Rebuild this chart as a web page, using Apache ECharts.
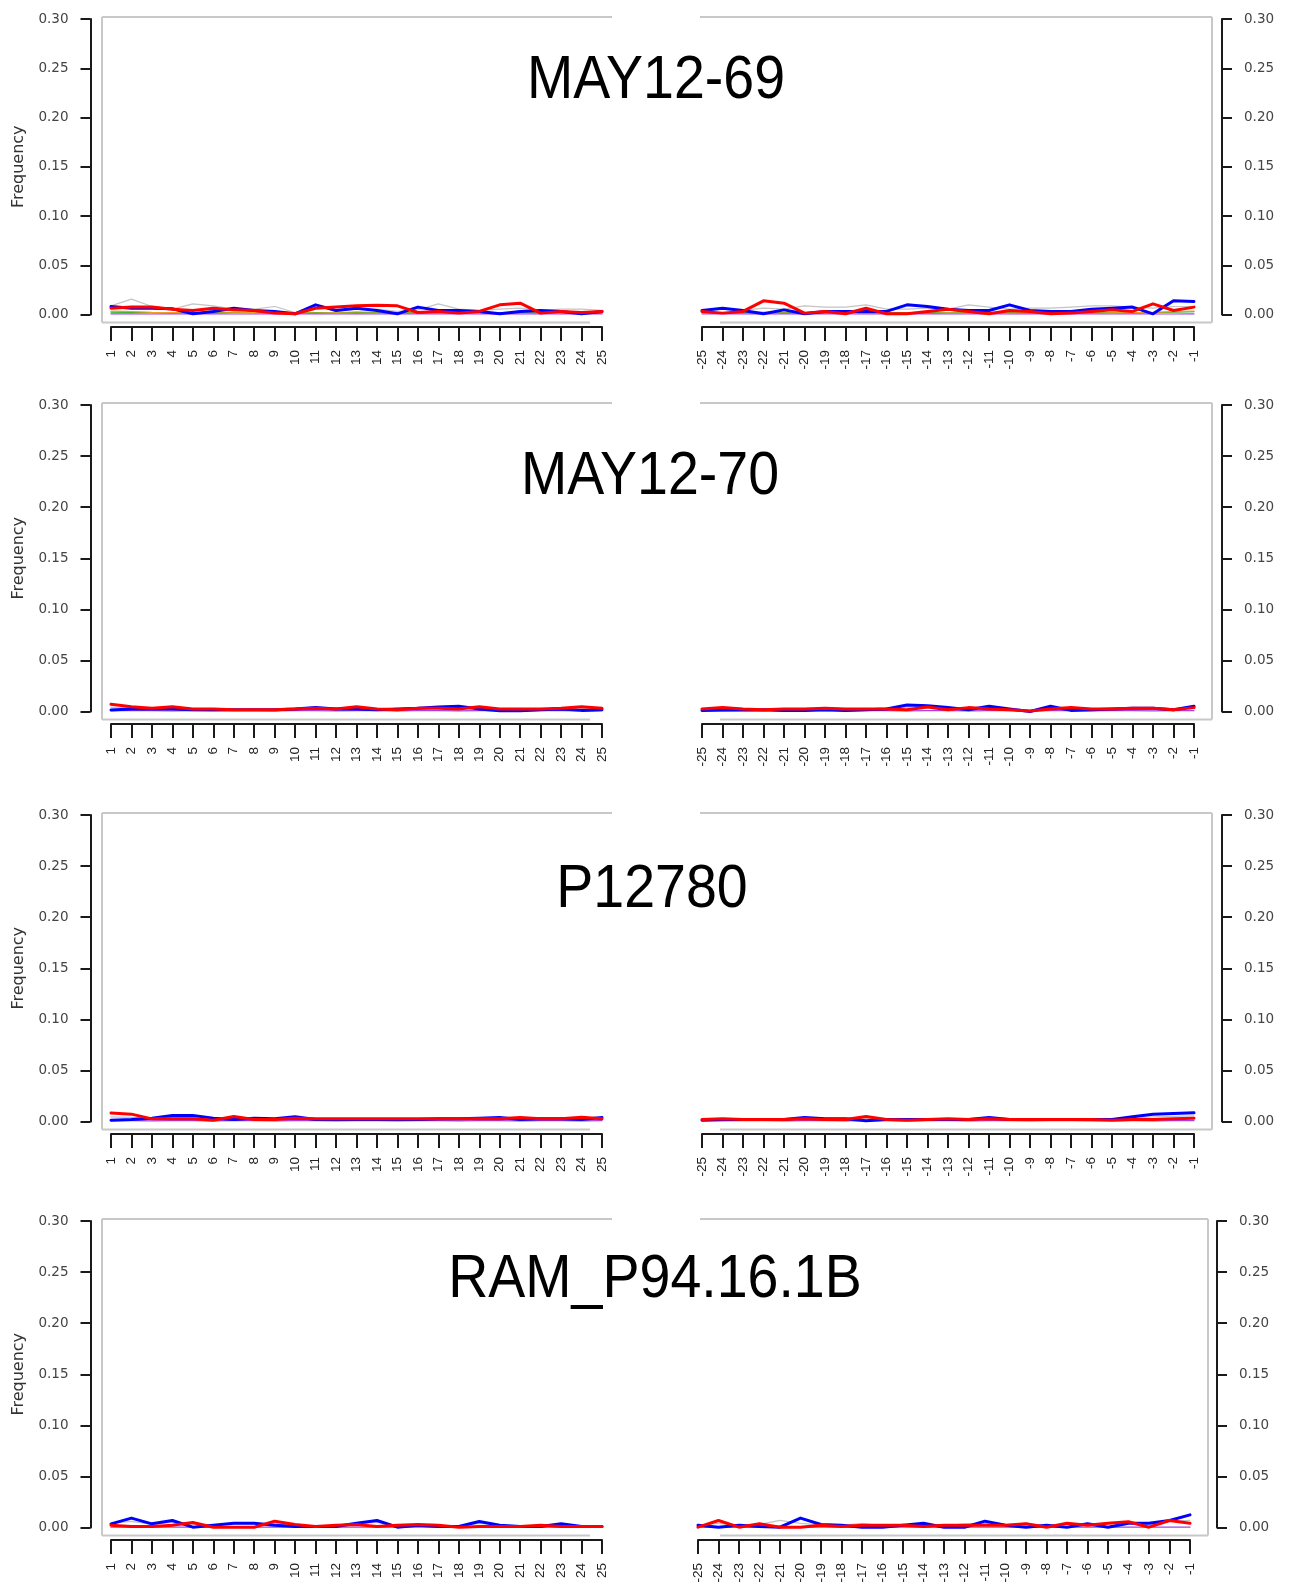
<!DOCTYPE html>
<html><head><meta charset="utf-8">
<script src="https://cdn.jsdelivr.net/npm/echarts@6/dist/echarts.min.js"></script>
<style>html,body{margin:0;padding:0;background:#fff}#c{width:1289px;height:1592px}</style>
</head><body><div id="c"></div>
<script>
// ---------- categories & ticks ----------
const leftCats = ['1','2','3','4','5','6','7','8','9','10','11','12','13','14','15','16','17','18','19','20','21','22','23','24','25'];
const rightCats = ['-25','-24','-23','-22','-21','-20','-19','-18','-17','-16','-15','-14','-13','-12','-11','-10','-9','-8','-7','-6','-5','-4','-3','-2','-1'];
const titles = ['MAY12-69','MAY12-70','P12780','RAM_P94.16.1B'];
const yMin = 0, yMax = 0.30, yStep = 0.05;

// ---------- panel 1: MAY12-69 ----------
const p1LeftGray   = [0.0088,0.0156,0.0081,0.0054,0.0108,0.0088,0.0054,0.0054,0.0081,0.0020,0.0098,0.0031,0.0054,0.0054,0.0031,0.0047,0.0108,0.0054,0.0041,0.0054,0.0064,0.0041,0.0054,0.0054,0.0041];
const p1LeftGreen  = [0.0025,0.0022,0.0020,0.0020,0.0018,0.0020,0.0022,0.0020,0.0018,0.0015,0.0020,0.0018,0.0025,0.0020,0.0018,0.0020,0.0022,0.0020,0.0018,0.0020,0.0018,0.0020,0.0022,0.0020,0.0020];
const p1LeftOrange = [0.0035,0.0030,0.0022,0.0020,0.0018,0.0015,0.0018,0.0020,0.0015,0.0012,0.0015,0.0018,0.0015,0.0015,0.0012,0.0015,0.0018,0.0015,0.0015,0.0012,0.0015,0.0015,0.0018,0.0015,0.0015];
const p1LeftPurple = [0.0006,0.0006,0.0005,0.0006,0.0005,0.0006,0.0005,0.0005,0.0006,0.0005,0.0006,0.0005,0.0006,0.0005,0.0005,0.0006,0.0005,0.0006,0.0005,0.0006,0.0005,0.0006,0.0005,0.0005,0.0006];
const p1LeftBlue   = [0.0081,0.0064,0.0064,0.0058,0.0007,0.0031,0.0064,0.0041,0.0031,0.0007,0.0098,0.0041,0.0064,0.0041,0.0007,0.0075,0.0041,0.0041,0.0031,0.0007,0.0031,0.0041,0.0031,0.0007,0.0031];
const p1LeftRed    = [0.0064,0.0075,0.0075,0.0054,0.0041,0.0064,0.0047,0.0041,0.0014,0.0007,0.0064,0.0075,0.0088,0.0095,0.0088,0.0020,0.0031,0.0014,0.0031,0.0098,0.0115,0.0014,0.0031,0.0020,0.0031];
const p1RightGray   = [0.0041,0.0054,0.0041,0.0064,0.0054,0.0088,0.0075,0.0075,0.0098,0.0054,0.0054,0.0064,0.0054,0.0098,0.0075,0.0054,0.0064,0.0064,0.0075,0.0088,0.0088,0.0075,0.0064,0.0081,0.0081];
const p1RightGreen  = [0.0020,0.0018,0.0020,0.0022,0.0020,0.0018,0.0020,0.0020,0.0022,0.0018,0.0020,0.0020,0.0018,0.0020,0.0022,0.0020,0.0018,0.0020,0.0020,0.0022,0.0020,0.0018,0.0020,0.0025,0.0030];
const p1RightOrange = [0.0015,0.0015,0.0012,0.0015,0.0015,0.0012,0.0015,0.0015,0.0012,0.0015,0.0015,0.0012,0.0015,0.0015,0.0012,0.0015,0.0015,0.0012,0.0015,0.0015,0.0018,0.0020,0.0022,0.0030,0.0035];
const p1RightPurple = [0.0005,0.0006,0.0005,0.0005,0.0006,0.0005,0.0006,0.0005,0.0005,0.0006,0.0005,0.0006,0.0005,0.0005,0.0006,0.0005,0.0006,0.0005,0.0005,0.0006,0.0005,0.0006,0.0005,0.0005,0.0006];
const p1RightBlue   = [0.0041,0.0064,0.0041,0.0007,0.0047,0.0007,0.0031,0.0031,0.0031,0.0031,0.0098,0.0081,0.0054,0.0041,0.0041,0.0098,0.0041,0.0031,0.0031,0.0054,0.0064,0.0075,0.0007,0.0139,0.0132];
const p1RightRed    = [0.0031,0.0014,0.0031,0.0139,0.0115,0.0014,0.0031,0.0007,0.0064,0.0007,0.0007,0.0031,0.0054,0.0031,0.0007,0.0041,0.0031,0.0007,0.0014,0.0031,0.0047,0.0031,0.0108,0.0041,0.0075];

// ---------- panel 2: MAY12-70 ----------
const p2LeftGray   = [0.0040,0.0035,0.0030,0.0035,0.0025,0.0025,0.0022,0.0022,0.0022,0.0028,0.0038,0.0030,0.0038,0.0025,0.0025,0.0032,0.0040,0.0045,0.0035,0.0022,0.0022,0.0025,0.0030,0.0035,0.0028];
const p2LeftPurple = [0.0008,0.0008,0.0008,0.0007,0.0008,0.0007,0.0008,0.0008,0.0007,0.0008,0.0008,0.0007,0.0008,0.0008,0.0007,0.0008,0.0008,0.0007,0.0008,0.0008,0.0007,0.0008,0.0008,0.0007,0.0008];
const p2LeftBlue   = [0.0015,0.0025,0.0025,0.0025,0.0018,0.0018,0.0018,0.0018,0.0018,0.0025,0.0038,0.0025,0.0025,0.0018,0.0025,0.0031,0.0044,0.0051,0.0025,0.0008,0.0008,0.0018,0.0025,0.0011,0.0018];
const p2LeftRed    = [0.0070,0.0047,0.0031,0.0047,0.0025,0.0025,0.0018,0.0018,0.0018,0.0025,0.0031,0.0025,0.0047,0.0025,0.0018,0.0031,0.0031,0.0025,0.0047,0.0025,0.0025,0.0025,0.0031,0.0047,0.0031];
const p2RightGray   = [0.0020,0.0028,0.0022,0.0020,0.0022,0.0022,0.0025,0.0022,0.0022,0.0025,0.0040,0.0045,0.0030,0.0030,0.0040,0.0022,0.0010,0.0035,0.0025,0.0022,0.0025,0.0030,0.0030,0.0020,0.0040];
const p2RightPurple = [0.0008,0.0007,0.0008,0.0008,0.0007,0.0008,0.0008,0.0007,0.0008,0.0008,0.0007,0.0008,0.0008,0.0007,0.0008,0.0008,0.0007,0.0008,0.0008,0.0007,0.0008,0.0008,0.0007,0.0008,0.0008];
const p2RightBlue   = [0.0011,0.0015,0.0015,0.0018,0.0011,0.0011,0.0018,0.0011,0.0018,0.0025,0.0064,0.0057,0.0038,0.0018,0.0051,0.0025,0.0000,0.0051,0.0011,0.0018,0.0025,0.0031,0.0031,0.0018,0.0051];
const p2RightRed    = [0.0025,0.0038,0.0025,0.0018,0.0025,0.0025,0.0031,0.0025,0.0025,0.0025,0.0018,0.0044,0.0018,0.0038,0.0025,0.0018,0.0005,0.0025,0.0038,0.0025,0.0025,0.0031,0.0031,0.0018,0.0038];

// ---------- panel 3: P12780 ----------
const p3LeftGray   = [0.0045,0.0040,0.0030,0.0040,0.0040,0.0025,0.0035,0.0025,0.0025,0.0035,0.0022,0.0022,0.0022,0.0022,0.0022,0.0022,0.0025,0.0025,0.0030,0.0032,0.0030,0.0025,0.0025,0.0030,0.0030];
const p3LeftPurple = [0.0008,0.0008,0.0007,0.0008,0.0008,0.0007,0.0008,0.0008,0.0007,0.0008,0.0008,0.0007,0.0008,0.0008,0.0007,0.0008,0.0008,0.0007,0.0008,0.0008,0.0007,0.0008,0.0008,0.0007,0.0008];
const p3LeftBlue   = [0.0013,0.0020,0.0033,0.0059,0.0059,0.0033,0.0020,0.0033,0.0026,0.0046,0.0020,0.0020,0.0020,0.0020,0.0020,0.0020,0.0026,0.0026,0.0033,0.0039,0.0020,0.0026,0.0026,0.0020,0.0039];
const p3LeftRed    = [0.0082,0.0072,0.0026,0.0026,0.0026,0.0013,0.0049,0.0020,0.0020,0.0033,0.0026,0.0026,0.0026,0.0026,0.0026,0.0026,0.0026,0.0026,0.0026,0.0026,0.0039,0.0026,0.0026,0.0042,0.0026];
const p3RightGray   = [0.0020,0.0022,0.0020,0.0020,0.0020,0.0030,0.0022,0.0022,0.0030,0.0020,0.0018,0.0020,0.0022,0.0020,0.0030,0.0020,0.0020,0.0020,0.0020,0.0020,0.0018,0.0030,0.0045,0.0050,0.0055];
const p3RightPurple = [0.0008,0.0007,0.0008,0.0008,0.0007,0.0008,0.0008,0.0007,0.0008,0.0008,0.0007,0.0008,0.0008,0.0007,0.0008,0.0008,0.0007,0.0008,0.0008,0.0007,0.0008,0.0008,0.0007,0.0008,0.0008];
const p3RightBlue   = [0.0013,0.0020,0.0020,0.0020,0.0020,0.0039,0.0026,0.0026,0.0007,0.0020,0.0020,0.0020,0.0020,0.0020,0.0039,0.0020,0.0020,0.0020,0.0020,0.0020,0.0020,0.0046,0.0072,0.0078,0.0085];
const p3RightRed    = [0.0020,0.0026,0.0020,0.0020,0.0020,0.0026,0.0020,0.0020,0.0049,0.0020,0.0013,0.0020,0.0026,0.0020,0.0026,0.0020,0.0020,0.0020,0.0020,0.0020,0.0013,0.0020,0.0020,0.0026,0.0033];

// ---------- panel 4: RAM_P94.16.1B ----------
const p4LeftGray   = [0.0040,0.0060,0.0030,0.0050,0.0030,0.0020,0.0035,0.0035,0.0040,0.0020,0.0010,0.0020,0.0035,0.0050,0.0020,0.0025,0.0015,0.0010,0.0040,0.0020,0.0010,0.0020,0.0030,0.0010,0.0010];
const p4LeftPurple = [0.0003,0.0003,0.0004,0.0003,0.0003,0.0004,0.0003,0.0003,0.0004,0.0003,0.0003,0.0004,0.0003,0.0003,0.0004,0.0003,0.0003,0.0004,0.0003,0.0003,0.0004,0.0003,0.0003,0.0004,0.0003];
const p4LeftBlue   = [0.0036,0.0092,0.0036,0.0069,0.0003,0.0023,0.0042,0.0042,0.0023,0.0010,0.0010,0.0010,0.0042,0.0069,0.0003,0.0023,0.0010,0.0010,0.0059,0.0023,0.0010,0.0010,0.0036,0.0010,0.0010];
const p4LeftRed    = [0.0023,0.0010,0.0010,0.0023,0.0049,0.0003,0.0003,0.0003,0.0062,0.0029,0.0010,0.0023,0.0029,0.0010,0.0023,0.0029,0.0023,0.0003,0.0010,0.0010,0.0010,0.0023,0.0010,0.0010,0.0010];
const p4RightGray   = [0.0015,0.0040,0.0015,0.0030,0.0070,0.0040,0.0025,0.0020,0.0040,0.0015,0.0020,0.0035,0.0015,0.0035,0.0040,0.0025,0.0042,0.0015,0.0035,0.0030,0.0040,0.0045,0.0020,0.0060,0.0070];
const p4RightPurple = [0.0003,0.0003,0.0004,0.0003,0.0003,0.0004,0.0003,0.0003,0.0004,0.0003,0.0003,0.0004,0.0003,0.0003,0.0004,0.0003,0.0003,0.0004,0.0003,0.0003,0.0004,0.0003,0.0003,0.0004,0.0003];
const p4RightBlue   = [0.0023,0.0003,0.0023,0.0010,0.0003,0.0092,0.0029,0.0023,0.0003,0.0003,0.0023,0.0042,0.0003,0.0003,0.0062,0.0023,0.0003,0.0023,0.0003,0.0036,0.0003,0.0042,0.0042,0.0069,0.0124];
const p4RightRed    = [0.0003,0.0069,0.0003,0.0036,0.0003,0.0003,0.0023,0.0010,0.0023,0.0023,0.0023,0.0010,0.0023,0.0023,0.0023,0.0023,0.0036,0.0003,0.0042,0.0023,0.0042,0.0056,0.0003,0.0069,0.0042];

// ---------- assemble ----------
const panels = [
  { left: {gray:p1LeftGray, green:p1LeftGreen, orange:p1LeftOrange, purple:p1LeftPurple, blue:p1LeftBlue, red:p1LeftRed},
    right:{gray:p1RightGray, green:p1RightGreen, orange:p1RightOrange, purple:p1RightPurple, blue:p1RightBlue, red:p1RightRed} },
  { left: {gray:p2LeftGray, purple:p2LeftPurple, blue:p2LeftBlue, red:p2LeftRed},
    right:{gray:p2RightGray, purple:p2RightPurple, blue:p2RightBlue, red:p2RightRed} },
  { left: {gray:p3LeftGray, purple:p3LeftPurple, blue:p3LeftBlue, red:p3LeftRed},
    right:{gray:p3RightGray, purple:p3RightPurple, blue:p3RightBlue, red:p3RightRed} },
  { left: {gray:p4LeftGray, purple:p4LeftPurple, blue:p4LeftBlue, red:p4LeftRed},
    right:{gray:p4RightGray, purple:p4RightPurple, blue:p4RightBlue, red:p4RightRed} }
];

// layout (pixels)
const layout = [
  {top:19,  bottom:314.5, lx:111, lw:491, rx:702, rw:492, rOff:28, boxR:1212, tx:656, ty:81},
  {top:405, bottom:711.5, lx:111, lw:491, rx:702, rw:492, rOff:28, boxR:1212, tx:650, ty:477},
  {top:815, bottom:1121.5,lx:111, lw:491, rx:702, rw:492, rOff:28, boxR:1212, tx:652, ty:890},
  {top:1221,bottom:1527.5,lx:111, lw:491, rx:698, rw:492, rOff:27, boxR:1208, tx:655, ty:1280}
];
const styles = {
  gray:  {color:'#c4c4c4', width:1.2},
  green: {color:'#22b022', width:1.2},
  orange:{color:'#f0a020', width:1.2},
  purple:{color:'#a040f0', width:1.2},
  blue:  {color:'#0000ff', width:3},
  red:   {color:'#ff0000', width:3}
};
const order = ['gray','green','orange','purple','blue','red'];

const grid = [], xAxis = [], yAxis = [], series = [], graphic = [];
const axisColor = '#1a1a1a';
panels.forEach((pan, p) => {
  const L = layout[p];
  [['left', L.lx, L.lw, leftCats], ['right', L.rx, L.rw, rightCats]].forEach(([side, gx, gw, cats]) => {
    const gi = grid.length;
    grid.push({left:gx, top:L.top, width:gw, height:L.bottom - L.top, containLabel:false});
    xAxis.push({type:'category', gridIndex:gi, data:cats, boundaryGap:false, position:'bottom', offset:12.5,
      axisLine:{show:true, onZero:false, lineStyle:{color:axisColor, width:2}},
      axisTick:{show:true, length:14, interval:0, lineStyle:{color:axisColor, width:2}},
      axisLabel:{rotate:90, interval:0, fontSize:13.5, color:'#222', margin:23, fontFamily:'Liberation Sans'},
      splitLine:{show:false}});
    yAxis.push({type:'value', gridIndex:gi, min:yMin, max:yMax, interval:yStep,
      position: side === 'left' ? 'left' : 'right',
      offset: side === 'left' ? 20.5 : L.rOff,
      axisLine:{show:true, onZero:false, lineStyle:{color:axisColor, width:2}},
      axisTick:{show:true, length:10, lineStyle:{color:axisColor, width:2}},
      axisLabel:{fontSize:13.5, color:'#444', margin:22, fontFamily:'DejaVu Sans', formatter:v => v.toFixed(2)},
      splitLine:{show:false}});
    const d = pan[side];
    order.forEach(k => {
      if (!d[k]) return;
      series.push({type:'line', xAxisIndex:gi, yAxisIndex:gi, data:d[k], symbol:'none', silent:true,
        lineStyle:{color:styles[k].color, width:styles[k].width, cap:'round', join:'round'}, z: 2});
    });
  });
  // gray frame (box with gap at top and bottom middle)
  const bt = L.top - 2, bb = L.bottom + 8, bl = 102, br = L.boxR;
  const lc = {stroke:'#c8c8c8', lineWidth:2};
  graphic.push({type:'line', shape:{x1:bl, y1:bt, x2:612, y2:bt}, style:lc, z:1});
  graphic.push({type:'line', shape:{x1:700, y1:bt, x2:br, y2:bt}, style:lc, z:1});
  graphic.push({type:'line', shape:{x1:bl, y1:bt, x2:bl, y2:bb}, style:lc, z:1});
  graphic.push({type:'line', shape:{x1:br, y1:bt, x2:br, y2:bb}, style:lc, z:1});
  graphic.push({type:'line', shape:{x1:bl, y1:bb, x2:590, y2:bb}, style:lc, z:1});
  graphic.push({type:'line', shape:{x1:720, y1:bb, x2:br, y2:bb}, style:lc, z:1});
  // title
  graphic.push({type:'text', x:L.tx, y:L.ty, scaleX:0.91, z:5,
    style:{text:titles[p], fontSize:61, fontFamily:'Liberation Sans', fill:'#000', align:'center', verticalAlign:'middle'}});
  // y axis name
  graphic.push({type:'text', x:18.5, y:(L.top + L.bottom)/2, rotation:Math.PI/2, z:5,
    style:{text:'Frequency', fontSize:16, fontFamily:'DejaVu Sans', fill:'#333', align:'center', verticalAlign:'middle'}});
});

const chart = echarts.init(document.getElementById('c'), null, {renderer:'canvas', width:1289, height:1592});
chart.setOption({backgroundColor:'#fff', animation:false, grid, xAxis, yAxis, series, graphic});
</script></body></html>
